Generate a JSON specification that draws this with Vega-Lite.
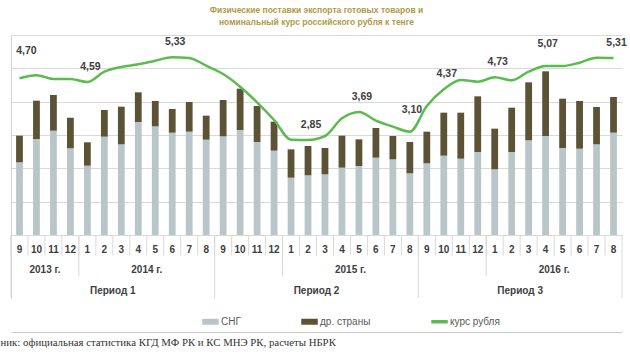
{
  "$schema": "https://vega.github.io/schema/vega-lite/v6.json",
  "width": 611,
  "height": 263,
  "autosize": "none",
  "padding": {"left": 11, "top": 35, "right": 8, "bottom": 57},
  "config": {"view": {"stroke": null}, "font": "Liberation Sans"},
  "title": {
    "text": ["Физические поставки экспорта готовых товаров и", "номинальный курс российского рубля к тенге"],
    "anchor": "middle",
    "frame": "group",
    "font": "Liberation Sans",
    "fontSize": 8.5,
    "fontWeight": "bold",
    "color": "#b09a48",
    "lineHeight": 12,
    "offset": 9
  },
  "data": {
    "values": [
      {"k": "2013-09", "m": "9", "sng": 2.18, "oth": 0.80, "rub": 4.70, "lab": "4,70"},
      {"k": "2013-10", "m": "10", "sng": 2.88, "oth": 1.15, "rub": 4.79, "lab": null},
      {"k": "2013-11", "m": "11", "sng": 3.13, "oth": 1.07, "rub": 4.68, "lab": null},
      {"k": "2013-12", "m": "12", "sng": 2.60, "oth": 0.92, "rub": 4.68, "lab": null},
      {"k": "2014-01", "m": "1", "sng": 2.08, "oth": 0.70, "rub": 4.59, "lab": "4,59"},
      {"k": "2014-02", "m": "2", "sng": 2.95, "oth": 0.80, "rub": 4.90, "lab": null},
      {"k": "2014-03", "m": "3", "sng": 2.72, "oth": 1.13, "rub": 5.04, "lab": null},
      {"k": "2014-04", "m": "4", "sng": 3.39, "oth": 0.89, "rub": 5.12, "lab": null},
      {"k": "2014-05", "m": "5", "sng": 3.26, "oth": 0.76, "rub": 5.23, "lab": null},
      {"k": "2014-06", "m": "6", "sng": 3.07, "oth": 0.71, "rub": 5.33, "lab": "5,33"},
      {"k": "2014-07", "m": "7", "sng": 3.10, "oth": 0.89, "rub": 5.31, "lab": null},
      {"k": "2014-08", "m": "8", "sng": 2.86, "oth": 0.72, "rub": 5.08, "lab": null},
      {"k": "2014-09", "m": "9", "sng": 2.96, "oth": 1.09, "rub": 4.83, "lab": null},
      {"k": "2014-10", "m": "10", "sng": 3.15, "oth": 1.24, "rub": 4.45, "lab": null},
      {"k": "2014-11", "m": "11", "sng": 2.79, "oth": 1.08, "rub": 3.98, "lab": null},
      {"k": "2014-12", "m": "12", "sng": 2.53, "oth": 0.87, "rub": 3.45, "lab": null},
      {"k": "2015-01", "m": "1", "sng": 1.72, "oth": 0.85, "rub": 2.86, "lab": null},
      {"k": "2015-02", "m": "2", "sng": 1.79, "oth": 0.88, "rub": 2.85, "lab": "2,85"},
      {"k": "2015-03", "m": "3", "sng": 1.82, "oth": 0.79, "rub": 2.97, "lab": null},
      {"k": "2015-04", "m": "4", "sng": 2.02, "oth": 0.96, "rub": 3.50, "lab": null},
      {"k": "2015-05", "m": "5", "sng": 2.07, "oth": 0.80, "rub": 3.69, "lab": "3,69"},
      {"k": "2015-06", "m": "6", "sng": 2.32, "oth": 0.89, "rub": 3.43, "lab": null},
      {"k": "2015-07", "m": "7", "sng": 2.27, "oth": 0.70, "rub": 3.25, "lab": null},
      {"k": "2015-08", "m": "8", "sng": 1.85, "oth": 0.94, "rub": 3.10, "lab": "3,10"},
      {"k": "2015-09", "m": "9", "sng": 2.15, "oth": 0.95, "rub": 3.87, "lab": null},
      {"k": "2015-10", "m": "10", "sng": 2.38, "oth": 1.29, "rub": 4.37, "lab": "4,37"},
      {"k": "2015-11", "m": "11", "sng": 2.29, "oth": 1.38, "rub": 4.65, "lab": null},
      {"k": "2015-12", "m": "12", "sng": 2.49, "oth": 1.67, "rub": 4.60, "lab": null},
      {"k": "2016-01", "m": "1", "sng": 1.97, "oth": 1.22, "rub": 4.73, "lab": "4,73"},
      {"k": "2016-02", "m": "2", "sng": 2.49, "oth": 1.33, "rub": 4.64, "lab": null},
      {"k": "2016-03", "m": "3", "sng": 2.84, "oth": 1.74, "rub": 4.90, "lab": null},
      {"k": "2016-04", "m": "4", "sng": 2.97, "oth": 1.94, "rub": 5.07, "lab": "5,07"},
      {"k": "2016-05", "m": "5", "sng": 2.61, "oth": 1.48, "rub": 5.07, "lab": null},
      {"k": "2016-06", "m": "6", "sng": 2.59, "oth": 1.43, "rub": 5.17, "lab": null},
      {"k": "2016-07", "m": "7", "sng": 2.72, "oth": 1.12, "rub": 5.32, "lab": null},
      {"k": "2016-08", "m": "8", "sng": 3.07, "oth": 1.07, "rub": 5.31, "lab": "5,31"}
    ]
  },
  "layer": [
    {
      "transform": [{"fold": ["sng", "oth"], "as": ["series", "v"]}],
      "mark": {"type": "bar", "width": {"band": 0.4}},
      "encoding": {
        "x": {
          "field": "k", "type": "ordinal",
          "scale": {"paddingInner": 0, "paddingOuter": 0},
          "axis": {
            "orient": "bottom", "offset": 34, "labels": false, "ticks": false, "grid": false,
            "domain": true, "domainColor": "#c8c8c8", "domainWidth": 1,
            "title": "ник: официальная статистика КГД МФ РК и КС МНЭ РК, расчеты НБРК",
            "titleFont": "Liberation Serif", "titleFontSize": 10.8, "titleFontWeight": "normal",
            "titleColor": "#333333", "titleX": -11, "titleY": 10, "titleAlign": "left", "titleBaseline": "middle"
          }
        },
        "y": {
          "field": "v", "type": "quantitative", "stack": "zero",
          "scale": {"domain": [-1.89, 6], "nice": false, "zero": false},
          "axis": {"values": [0, 1, 2, 3, 4, 5, 6], "grid": true, "gridColor": "#d9d9d9", "labels": false, "ticks": false, "domain": true, "domainColor": "#d0d0d0", "title": null}
        },
        "color": {
          "field": "series", "type": "nominal",
          "scale": {"domain": ["sng", "oth", "rub"], "range": ["#b8c6ca", "#5c5236", "#5cbb50"]},
          "legend": {
            "orient": "none", "legendX": 191, "legendY": 278, "direction": "horizontal", "title": null,
            "labelExpr": "datum.value == 'sng' ? 'СНГ' : datum.value == 'oth' ? 'др. страны' : 'курс рубля'",
            "symbolSize": 225, "columnPadding": 58, "labelOffset": 2, "labelFontSize": 10, "labelColor": "#595959", "labelFont": "Liberation Sans",
            "encode": {"symbols": {"update": {
              "shape": {"signal": "datum.value == 'rub' ? 'M-1,-0.12H1V0.12H-1Z' : 'M-1,-0.3H1V0.3H-1Z'"},
              "fill": {"signal": "scale('color', datum.value)"},
              "stroke": {"value": "transparent"},
              "opacity": {"value": 1}
            }}}
          }
        },
        "order": {"field": "series", "sort": "descending"}
      }
    },
    {
      "mark": {"type": "line", "interpolate": "monotone", "strokeWidth": 2.5},
      "encoding": {
        "x": {"field": "k", "type": "ordinal"},
        "y": {"field": "rub", "type": "quantitative"},
        "color": {"datum": "rub"}
      }
    },
    {
      "transform": [{"filter": "datum.lab == '4,70'"}],
      "mark": {"type": "text", "fontWeight": "bold", "fontSize": 10.5, "color": "#404040", "dx": 7, "dy": -27, "baseline": "middle"},
      "encoding": {
        "x": {"field": "k", "type": "ordinal"},
        "y": {"field": "rub", "type": "quantitative"},
        "text": {"field": "lab"}
      }
    },
    {
      "transform": [{"filter": "datum.lab == '3,10' || datum.lab == '5,07'"}],
      "mark": {"type": "text", "fontWeight": "bold", "fontSize": 10.5, "color": "#404040", "dx": 2, "dy": -22, "baseline": "middle"},
      "encoding": {
        "x": {"field": "k", "type": "ordinal"},
        "y": {"field": "rub", "type": "quantitative"},
        "text": {"field": "lab"}
      }
    },
    {
      "transform": [{"filter": "datum.lab != null && datum.lab != '4,70' && datum.lab != '3,10' && datum.lab != '5,07'"}],
      "mark": {"type": "text", "fontWeight": "bold", "fontSize": 10.5, "color": "#404040", "dx": 3, "dy": -15, "baseline": "middle"},
      "encoding": {
        "x": {"field": "k", "type": "ordinal"},
        "y": {"field": "rub", "type": "quantitative"},
        "text": {"field": "lab"}
      }
    },
    {
      "mark": {"type": "rule", "color": "#d9d9d9", "strokeWidth": 1},
      "encoding": {
        "x": {"field": "k", "type": "ordinal", "bandPosition": 0},
        "y": {"datum": 0, "type": "quantitative"},
        "y2": {"datum": -0.615}
      }
    },
    {
      "transform": [{"filter": "datum.m == '1'"}],
      "mark": {"type": "rule", "color": "#d9d9d9", "strokeWidth": 1},
      "encoding": {
        "x": {"field": "k", "type": "ordinal", "bandPosition": 0},
        "y": {"datum": 0, "type": "quantitative"},
        "y2": {"datum": -1.24}
      }
    },
    {
      "transform": [{"filter": "datum.m == '9'"}],
      "mark": {"type": "rule", "color": "#d9d9d9", "strokeWidth": 1},
      "encoding": {
        "x": {"field": "k", "type": "ordinal", "bandPosition": 0},
        "y": {"datum": 0, "type": "quantitative"},
        "y2": {"datum": -1.89}
      }
    },
    {
      "transform": [{"filter": "datum.k == '2016-08'"}],
      "mark": {"type": "rule", "color": "#d9d9d9", "strokeWidth": 1},
      "encoding": {
        "x": {"field": "k", "type": "ordinal", "bandPosition": 1},
        "y": {"datum": 0, "type": "quantitative"},
        "y2": {"datum": -1.89}
      }
    },
    {
      "mark": {"type": "text", "fontWeight": "bold", "fontSize": 10, "color": "#404040", "baseline": "middle"},
      "encoding": {
        "x": {"field": "k", "type": "ordinal"},
        "y": {"datum": -0.44, "type": "quantitative"},
        "text": {"field": "m"}
      }
    },
    {
      "data": {"values": [
        {"t": "2013 г.", "k": "2013-11"},
        {"t": "2014 г.", "k": "2014-05"},
        {"t": "2015 г.", "k": "2015-05"},
        {"t": "2016 г.", "k": "2016-05"}
      ]},
      "mark": {"type": "text", "fontWeight": "bold", "fontSize": 10, "color": "#404040", "baseline": "middle"},
      "encoding": {
        "x": {"field": "k", "type": "ordinal", "bandPosition": 0},
        "y": {"datum": -1.06, "type": "quantitative"},
        "text": {"field": "t"}
      }
    },
    {
      "data": {"values": [
        {"t": "Период 1", "k": "2014-03"},
        {"t": "Период 2", "k": "2015-03"},
        {"t": "Период 3", "k": "2016-03"}
      ]},
      "mark": {"type": "text", "fontWeight": "bold", "fontSize": 10, "color": "#404040", "baseline": "middle"},
      "encoding": {
        "x": {"field": "k", "type": "ordinal", "bandPosition": 0},
        "y": {"datum": -1.67, "type": "quantitative"},
        "text": {"field": "t"}
      }
    }
  ]
}
